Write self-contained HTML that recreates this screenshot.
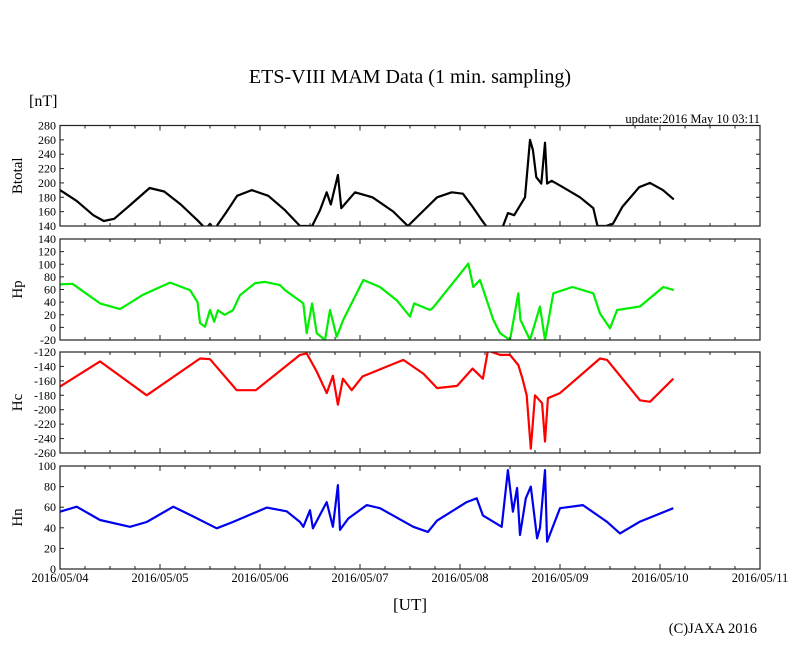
<!DOCTYPE html>
<html><head><meta charset="utf-8"><style>
body{margin:0;background:#fff;}
svg{display:block;font-family:"Liberation Serif",serif;}
</style></head><body>
<svg id="chart" width="810" height="655" viewBox="0 0 810 655" xmlns="http://www.w3.org/2000/svg">
<text x="410" y="83" font-size="20" text-anchor="middle">ETS-VIII MAM Data (1 min. sampling)</text>
<text x="29" y="106" font-size="16">[nT]</text>
<text x="760" y="123" font-size="12.5" text-anchor="end">update:2016 May 10 03:11</text>
<text x="410" y="610" font-size="17" text-anchor="middle">[UT]</text>
<text x="757" y="633" font-size="14.5" text-anchor="end">(C)JAXA 2016</text>
</svg>
<script>
const xDays = ["2016/05/04","2016/05/05","2016/05/06","2016/05/07","2016/05/08","2016/05/09","2016/05/10","2016/05/11"];

const btT = [0,4,8,10.5,13,17,21.5,25,29,33,35,36,37,38,40,42.5,46,50,54,57.6,60.5,62.4,64,65,66.7,67.5,70.8,75,80,83.5,87,90.5,94,96.7,99,101,102.5,104,106,107.5,109,111.6,112.8,113.5,114.3,115.5,116.4,116.9,118,120.7,124.8,128,129,131,132.7,135,139,141.6,144.7,147.3];
const btV = [190,175,155,147,150,170,193,188,170,148,136,143,135,143,160,182,190,182,162,140,140,162,187,170,211,165,187,180,160,140,160,180,187,185,167,150,138,130,135,158,155,180,260,246,208,199,256,199,203,194,180,165,140,140,143,167,194,200,190,177];

const hpT = [0,3,9.6,14.4,20,26.4,31.2,33,33.6,34.8,36,37,37.9,39.5,41.5,43.2,46.8,49.2,52.8,54,58.4,59.2,60.5,61.6,63.6,64.8,66.4,68,72.8,76.8,80.8,84,85,88.8,89.5,96.8,98,99.2,100.8,104,105.6,108,110,110.5,112.8,115.2,116.4,118.4,123,128,129.6,132,133.7,139.2,144.8,147.3];
const hpV = [68,69,38,29,52,71,59,40,7,1,27.5,9,27,20,27,51,70,72,67,59,38,-9,38,-9,-20,27.5,-15,12,75,64,43,17,38,27.5,31,91,101,64,75,12,-9,-20,54,12,-20,33,-20,54,64,54,22,-1.5,27.5,33,64,59];

const hcT = [0,9.6,20.8,33.6,36,42.4,47,57.6,59.2,61.6,64,65.5,66.7,67.9,70,72.6,82.4,87.2,90.5,95.3,99,101.5,102.7,105.6,108,110,111,112,113,114,115.7,116.4,117.1,120,129.6,131.3,139.2,141.6,147.2];
const hcV = [-168,-133,-180,-129,-130,-173,-173,-124,-122,-147,-177,-153,-193,-157,-173,-154,-131,-150,-170,-167,-143,-157,-118,-124,-124,-138,-157,-180,-254,-180,-191,-244,-184,-177,-129,-131,-187,-189,-157];

const hnT = [0,4,9.6,16.8,20.8,27.2,32,37.6,41.5,49.6,54.4,57.6,58.4,60,60.7,64,65.5,66.7,67.2,69.2,73.6,76.8,84.8,88.3,90.5,97.6,100,101.5,106,107.5,108.7,109.7,110.4,111.8,113,114.5,115.2,116.4,116.9,120,125.5,131.2,134.4,139.2,147.2];
const hnV = [55.6,60.5,47.6,41,45.6,60.5,51,39.5,45.6,59.6,56,45.6,41,57,39.5,65,41,81.5,38,49,62,59,41,36,47,65,68.6,52,41,96,55.6,78.6,33,68.6,80,29.8,40,96,26.5,59,62,46,34.6,46,59];

const panels = [
  {name:"btotal", label:"Btotal", top:125.5, bot:226, min:140, max:280, step:20, color:"#000", t:btT, v:btV},
  {name:"hp", label:"Hp", top:239, bot:340, min:-20, max:140, step:20, color:"#00ee00", t:hpT, v:hpV},
  {name:"hc", label:"Hc", top:352, bot:453, min:-260, max:-120, step:20, color:"#ff0000", t:hcT, v:hcV},
  {name:"hn", label:"Hn", top:466, bot:569, min:0, max:100, step:20, color:"#0000ee", t:hnT, v:hnV}
];
const X0=60, X1=760;
const svg=document.getElementById('chart');
const NS="http://www.w3.org/2000/svg";
function xs(t){return X0+t*(X1-X0)/168;}
function mk(tag,attrs){const e=document.createElementNS(NS,tag);for(const k in attrs)e.setAttribute(k,attrs[k]);svg.appendChild(e);return e;}
const defs=mk('defs',{});
panels.forEach((p,i)=>{
  const ys=v=>p.bot-(v-p.min)*(p.bot-p.top)/(p.max-p.min);
  const cp=document.createElementNS(NS,'clipPath');cp.setAttribute('id','clip'+i);
  const r=document.createElementNS(NS,'rect');r.setAttribute('x',X0);r.setAttribute('y',p.top);r.setAttribute('width',X1-X0);r.setAttribute('height',p.bot-p.top);
  cp.appendChild(r);defs.appendChild(cp);
  let d=p.t.map((t,j)=>(j?'L':'M')+xs(t).toFixed(1)+','+ys(p.v[j]).toFixed(1)).join('');
  const line=mk('path',{d:d,fill:'none',stroke:p.color,'stroke-width':2.2,'stroke-linejoin':'round','clip-path':'url(#clip'+i+')'});
  
  
  const fr=mk('rect',{x:X0,y:p.top,width:X1-X0,height:p.bot-p.top,fill:'none',stroke:'#222','stroke-width':1.2});
  
  
  for(let v=p.min;v<=p.max;v+=p.step){
    const y=ys(v);
    mk('line',{x1:X0,x2:X0+4,y1:y,y2:y,stroke:'#222'});
    mk('line',{x1:X1-4,x2:X1,y1:y,y2:y,stroke:'#222'});
    const tl=mk('text',{x:X0-4,y:y+4,'font-size':12,'text-anchor':'end'});
    tl.textContent=v;
    
    
  }
  for(let h=0;h<=168;h+=6){
    const x=xs(h),L=(h%24===0)?5:3;
    mk('line',{x1:x,x2:x,y1:p.top,y2:p.top+L,stroke:'#222'});
    mk('line',{x1:x,x2:x,y1:p.bot-L,y2:p.bot,stroke:'#222'});
  }
  const cy=(p.top+p.bot)/2;
  const yl=mk('text',{x:0,y:0,'font-size':15,'text-anchor':'middle',transform:'translate(22,'+cy+') rotate(-90)'});
  yl.textContent=p.label;
  
  
});
xDays.forEach((s,i)=>{
  const t=mk('text',{x:xs(i*24),y:582,'font-size':12.5,'text-anchor':'middle'});
  t.textContent=s;
  
  
});
</script>
</body></html>
